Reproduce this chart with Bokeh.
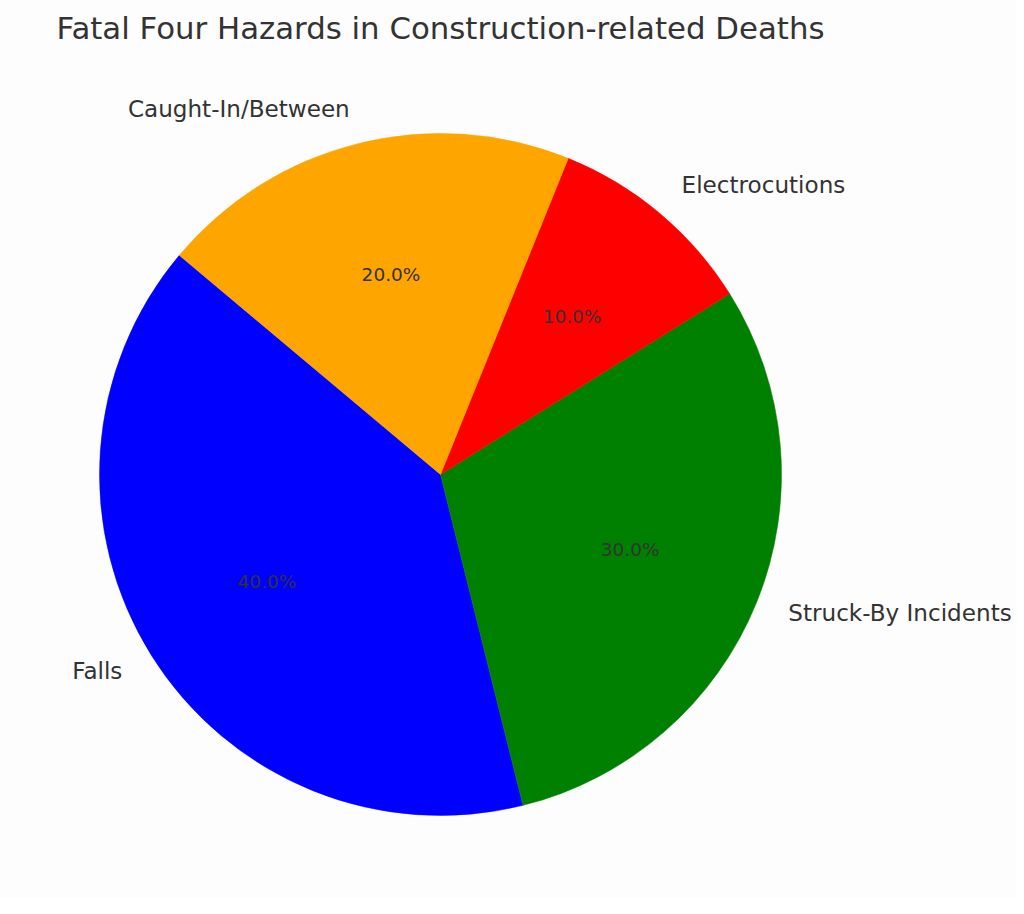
import math
from bokeh.plotting import figure
from bokeh.models import Range1d, ColumnDataSource
from bokeh.core.properties import value
from bokeh.embed import file_html
from bokeh.resources import INLINE

# ---- data ----
title = "Fatal Four Hazards in Construction-related Deaths"
labels = ["Falls", "Struck-By Incidents", "Electrocutions", "Caught-In/Between"]
sizes = [40, 30, 10, 20]
colors = ["blue", "green", "red", "orange"]
start_angle = 140.0

# ---- layout (data units = reference pixels, y measured upward) ----
W, H = 1024, 914
PW, PH = 1016, 898
cx, cy = 440.0, H - 474.0
R = 341.0
FONT = "DejaVu Sans"
TXT = "#333333"
BG = "#fdfdfd"

total = float(sum(sizes))
starts, ends, mids = [], [], []
a = start_angle
for s in sizes:
    span = 360.0 * s / total
    starts.append(math.radians(a))
    ends.append(math.radians(a + span))
    mids.append(math.radians(a + span / 2.0))
    a += span

src = ColumnDataSource(dict(
    x=[cx] * len(sizes), y=[cy] * len(sizes),
    start=starts, end=ends, color=colors,
))

p = figure(width=PW, height=PH, output_backend="svg", toolbar_location=None,
           x_range=Range1d(0, PW), y_range=Range1d(H - PH, H),
           min_border=0)
p.axis.visible = False
p.grid.visible = False
p.outline_line_color = None
p.background_fill_color = BG
p.border_fill_color = BG

p.wedge(x="x", y="y", radius=R, start_angle="start", end_angle="end",
        direction="anticlock", fill_color="color", line_color="color",
        line_width=0.5, source=src)

# outer labels at 1.1 R
lx, ly, la = [], [], []
for m in mids:
    x = cx + 1.1 * R * math.cos(m)
    y = cy + 1.1 * R * math.sin(m)
    lx.append(x)
    ly.append(y)
    la.append("left" if math.cos(m) > 0 else "right")
p.text(x=lx, y=ly, text=labels, text_align=la, text_baseline="middle",
       y_offset=-2, text_font=value(FONT), text_font_size="23.1px",
       text_color=TXT)

# percentage labels at 0.6 R
px_ = [cx + 0.6 * R * math.cos(m) for m in mids]
py_ = [cy + 0.6 * R * math.sin(m) for m in mids]
pct = ["%.1f%%" % (100.0 * s / total) for s in sizes]
p.text(x=px_, y=py_, text=pct, text_align="center", text_baseline="middle",
       y_offset=-1.5, text_font=value(FONT), text_font_size="18.5px",
       text_color=TXT)

# title
p.text(x=[cx], y=[H - 27], text=[title], text_align="center",
       text_baseline="middle", text_font=value(FONT),
       text_font_size="30.8px", text_color=TXT)

open("out.html", "w").write(file_html(p, INLINE))
